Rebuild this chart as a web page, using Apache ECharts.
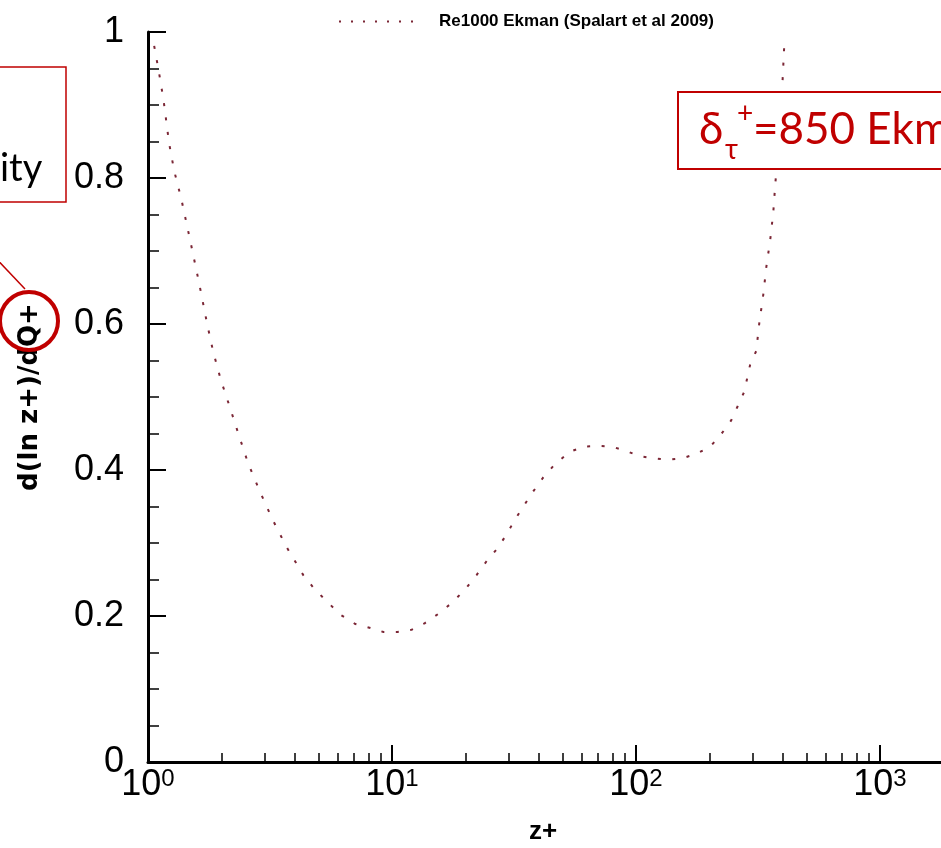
<!DOCTYPE html>
<html>
<head>
<meta charset="utf-8">
<script src="https://cdn.jsdelivr.net/npm/echarts@6/dist/echarts.min.js"></script>
<style>
html,body{margin:0;padding:0;background:#fff;}
#chart{width:941px;height:848px;}
</style>
</head>
<body>
<div id="chart"></div>
<script>
var seriesName = 'Re1000 Ekman (Spalart et al 2009)';
var zVals = [1.06,1.11,1.16,1.22,1.28,1.37,1.49,1.62,1.75,1.85,1.99,2.17,2.36,2.58,2.88,3.23,3.69,4.33,4.81,5.48,6.2,7.08,8.08,9.23,10.5,12.0,13.6,15.5,17.6,20.0,22.2,24.4,27.1,29.5,31.9,34.7,37.8,41.5,46.5,53.6,61.2,69.8,79.7,91.0,103.8,118.6,135.3,154.5,176.4,201.3,223.4,245.6,259.9,277.6,293.9,311,320,332.3,342,355.1,365.3,372.3,386,397.8,405.4];
var qVals = [0.981,0.944,0.905,0.848,0.810,0.771,0.714,0.656,0.599,0.562,0.523,0.485,0.447,0.408,0.370,0.333,0.295,0.256,0.237,0.218,0.201,0.189,0.184,0.178,0.178,0.181,0.190,0.203,0.218,0.237,0.256,0.275,0.293,0.312,0.332,0.351,0.370,0.389,0.408,0.425,0.432,0.433,0.432,0.426,0.419,0.416,0.414,0.416,0.422,0.432,0.449,0.468,0.486,0.507,0.545,0.563,0.601,0.640,0.678,0.716,0.753,0.792,0.852,0.926,0.984];
var minorXTicks = [2,3,4,5,6,7,8,9,20,30,40,50,60,70,80,90,200,300,400,500,600,700,800,900,2000,3000,4000,5000,6000,7000,8000,9000];
var yTitle = 'd(ln z+)/dQ+';
var xTitle = 'z+';
var boxLeftText = 'ity';
var boxRightText = '=850 Ekman';

var data = zVals.map(function(z, i){ return [z, qVals[i]]; });
var red = '#c00000';
var chart = echarts.init(document.getElementById('chart'));
chart.setOption({
  animation: false,
  backgroundColor: '#fff',
  grid: {left: 148, top: 32, bottom: 86, width: 976, containLabel: false, outerBoundsMode: 'none'},
  legend: {
    left: 333, top: 8,
    itemWidth: 84, itemHeight: 14,
    data: [seriesName],
    itemStyle: {opacity: 0},
    lineStyle: {color: '#7b2635', width: 2, type: [2, 10]},
    textStyle: {fontFamily: 'Liberation Sans', fontWeight: 'bold', fontSize: 17, color: '#000', padding: [0,0,0,11]}
  },
  xAxis: [{
    type: 'log', logBase: 10, min: 1, max: 10000,
    axisLine: {onZero: false, lineStyle: {color: '#000', width: 3}},
    axisTick: {inside: true, length: 17, lineStyle: {color: '#000', width: 2}},
    splitLine: {show: false},
    axisLabel: {
      margin: 5, color: '#000',
      formatter: function(v){ return '{b|10}{s|' + Math.round(Math.log10(v)) + '}'; },
      rich: {
        b: {fontFamily: 'Liberation Sans', fontSize: 36, lineHeight: 36, color: '#000'},
        s: {fontFamily: 'Liberation Sans', fontSize: 24, lineHeight: 24, verticalAlign: 'top', color: '#000'}
      }
    }
  }, {
    type: 'log', logBase: 10, min: 1, max: 10000, position: 'bottom',
    axisLine: {show: false, onZero: false},
    axisLabel: {show: false},
    splitLine: {show: false},
    axisTick: {show: true, inside: true, length: 9, customValues: minorXTicks, lineStyle: {color: '#000', width: 1.5}}
  }],
  yAxis: {
    type: 'value', min: 0, max: 1, interval: 0.2,
    name: yTitle, nameLocation: 'middle', nameRotate: 90, nameGap: 105,
    nameTextStyle: {fontFamily: 'DejaVu Sans', fontWeight: 'bold', fontSize: 26, color: '#000'},
    axisLine: {onZero: false, lineStyle: {color: '#000', width: 3}},
    axisTick: {inside: true, length: 18, lineStyle: {color: '#000', width: 2}},
    minorTick: {show: true, splitNumber: 4, length: 11, lineStyle: {color: '#000', width: 1.5}},
    splitLine: {show: false},
    axisLabel: {
      margin: 24, fontFamily: 'Liberation Sans', fontSize: 36, color: '#000',
      formatter: function(v){ return String(Math.round(v*10)/10); }
    }
  },
  series: [{
    name: seriesName, type: 'line', xAxisIndex: 0, data: data,
    showSymbol: false, symbol: 'none',
    lineStyle: {color: '#7b2635', width: 2, type: [3, 11.5]},
    itemStyle: {color: '#7b2635'},
    z: 2
  }],
  graphic: [
    {type: 'rect', z: 100, shape: {x: -10, y: 67, width: 76, height: 135}, style: {fill: '#fff', stroke: red, lineWidth: 1.5}},
    {type: 'text', z: 101, x: 0, y: 169, style: {text: boxLeftText, font: '38px Lato', fill: '#000', verticalAlign: 'middle'}},
    {type: 'line', z: 100, shape: {x1: -10, y1: 252, x2: 25, y2: 289}, style: {stroke: red, lineWidth: 1.5}},
    {type: 'circle', z: 100, shape: {cx: 29, cy: 321, r: 29}, style: {fill: 'none', stroke: red, lineWidth: 4}},
    {type: 'rect', z: 100, shape: {x: 678, y: 92, width: 300, height: 77}, style: {fill: '#fff', stroke: red, lineWidth: 2}},
    {type: 'text', z: 101, x: 699, y: 130, style: {text: 'δ', font: '44px Lato', fill: red, verticalAlign: 'middle'}},
    {type: 'text', z: 101, x: 725, y: 150, style: {text: 'τ', font: '28px Lato', fill: red, verticalAlign: 'middle'}},
    {type: 'text', z: 101, x: 737, y: 114, style: {text: '+', font: '28px Lato', fill: red, verticalAlign: 'middle'}},
    {type: 'text', z: 101, x: 753, y: 130, style: {text: boxRightText, font: '44px Lato', fill: red, verticalAlign: 'middle'}},
    {type: 'text', z: 101, x: 543, y: 832, style: {text: xTitle, font: 'bold 26px "Liberation Sans"', fill: '#000', align: 'center', verticalAlign: 'middle'}}
  ]
});
</script>
</body>
</html>
